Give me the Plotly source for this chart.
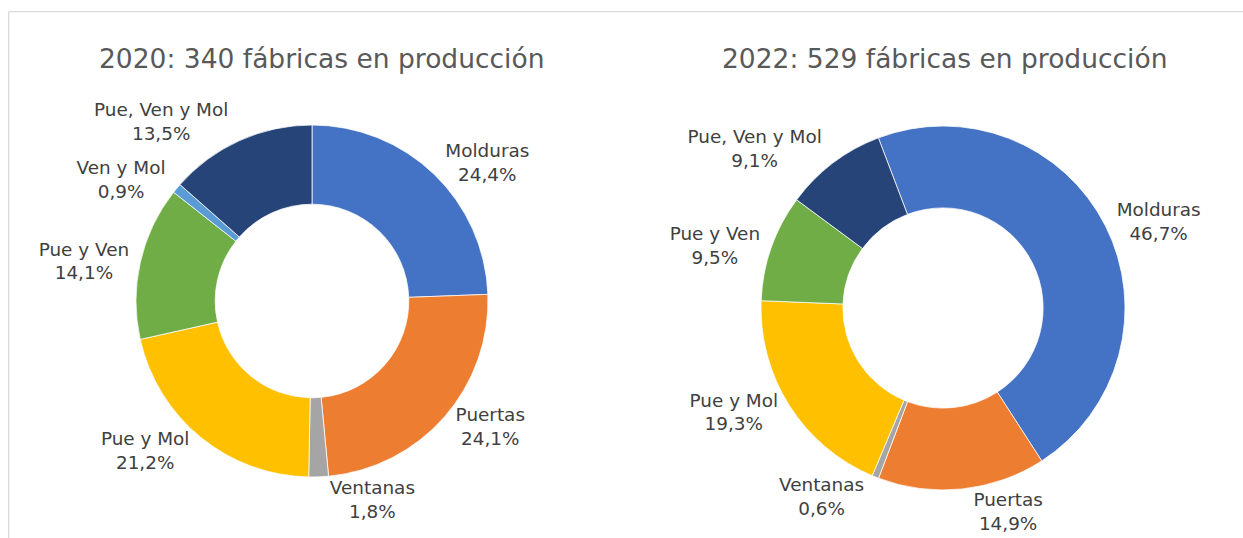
import plotly.graph_objects as go

# ---- data ----
labels_2020 = ["Molduras", "Puertas", "Ventanas", "Pue y Mol", "Pue y Ven", "Ven y Mol", "Pue, Ven y Mol"]
values_2020 = [24.4, 24.1, 1.8, 21.2, 14.1, 0.9, 13.5]

labels_2022 = ["Molduras", "Puertas", "Ventanas", "Pue y Mol", "Pue y Ven", "Pue, Ven y Mol"]
values_2022 = [46.7, 14.9, 0.6, 19.3, 9.5, 9.1]

titles = ["2020: 340 fábricas en producción", "2022: 529 fábricas en producción"]

color_map = {
    "Molduras": "#4472C4",
    "Puertas": "#ED7D31",
    "Ventanas": "#A5A5A5",
    "Pue y Mol": "#FFC000",
    "Pue y Ven": "#70AD47",
    "Ven y Mol": "#5B9BD5",
    "Pue, Ven y Mol": "#264478",
}

FONT = "DejaVu Sans"
W, H = 1243, 538

fig = go.Figure()

fig.add_trace(go.Pie(
    labels=labels_2020, values=values_2020,
    hole=0.55, sort=False, direction="clockwise", rotation=0,
    marker=dict(colors=[color_map[l] for l in labels_2020], line=dict(color="white", width=0.75)),
    textposition="outside", texttemplate="%{label}<br>%{value:.1f}%",
    textfont=dict(family=FONT, size=18.4, color="#404040"),
    domain=dict(x=[112 / W, 512 / W], y=[61 / H, 413 / H]),
    showlegend=False, hoverinfo="skip",
))

fig.add_trace(go.Pie(
    labels=labels_2022, values=values_2022,
    hole=0.55, sort=False, direction="clockwise", rotation=-20.8,
    marker=dict(colors=[color_map[l] for l in labels_2022], line=dict(color="white", width=0.75)),
    textposition="outside", texttemplate="%{label}<br>%{value:.1f}%",
    textfont=dict(family=FONT, size=18.4, color="#404040"),
    domain=dict(x=[743 / W, 1143 / W], y=[48 / H, 412 / H]),
    showlegend=False, hoverinfo="skip",
))

annotations = []
for t, xc in zip(titles, [321 / W, 944 / W]):
    annotations.append(dict(
        text=t, x=xc, y=1 - 58 / H, xref="paper", yref="paper",
        xanchor="center", yanchor="middle", showarrow=False,
        font=dict(family=FONT, size=26.5, color="#595959"),
    ))

fig.update_layout(
    width=W, height=H,
    margin=dict(l=0, r=0, t=0, b=0, autoexpand=False),
    paper_bgcolor="white", plot_bgcolor="white",
    separators=",.",
    annotations=annotations,
    shapes=[dict(type="rect", xref="paper", yref="paper",
                 x0=8.7 / W, x1=1.01, y0=-0.05, y1=1 - 11.7 / H,
                 line=dict(color="#D0D0D0", width=1))],
)

fig.write_html(
    "out.html",
    config={"displayModeBar": False},
    post_script="document.body.style.margin='0px';document.body.style.overflow='hidden';",
)
